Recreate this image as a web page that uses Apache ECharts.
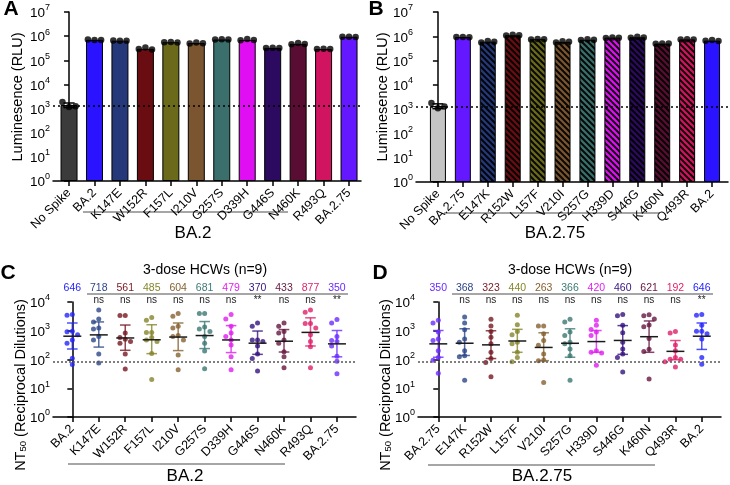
<!DOCTYPE html>
<html><head><meta charset="utf-8">
<script src="https://cdn.jsdelivr.net/npm/echarts@6/dist/echarts.min.js"></script>
<style>html,body{margin:0;padding:0;background:#fff}#c{width:730px;height:485px}</style>
</head><body><div id="c"></div>
<script>
const FONT = '"Liberation Sans", Arial, Helvetica, sans-serif';

// ---------- Panel A ----------
const catsA = ['No Spike','BA.2','K147E','W152R','F157L','I210V','G257S','D339H','G446S','N460K','R493Q','BA.2.75'];
const barsA = [1400, 705000, 650000, 300000, 560000, 515000, 725000, 700000, 325000, 480000, 293000, 940000];
const repsA = [
  [1850, 1150, 1250], [730000, 700000, 690000], [660000, 650000, 640000], [290000, 340000, 280000],
  [560000, 570000, 550000], [500000, 540000, 510000], [720000, 740000, 720000], [680000, 760000, 690000],
  [320000, 330000, 320000], [460000, 520000, 470000], [290000, 300000, 290000], [940000, 950000, 930000]
];
const colorsA = ['#3b3b3b','#2a14ff','#24387a','#6a0d12','#6b6a1b','#7a5530','#3b6f6b','#e00ef2','#2c0a60','#5a0d32','#d11460','#6418ff'];
const noSpikeErrA = [1100, 1700];
const limitA = 1300;

// ---------- Panel B ----------
const catsB = ['No Spike','BA.2.75','E147K','R152W','L157F','V210I','S257G','H339D','S446G','K460N','Q493R','BA.2'];
const barsB = [1350, 930000, 600000, 1100000, 760000, 590000, 720000, 880000, 910000, 500000, 745000, 665000];
const repsB = [
  [1800, 1100, 1300], [930000, 940000, 920000], [560000, 640000, 600000], [1080000, 1150000, 1100000],
  [740000, 780000, 760000], [560000, 620000, 600000], [700000, 760000, 720000], [860000, 900000, 880000],
  [880000, 960000, 900000], [490000, 510000, 500000], [740000, 760000, 740000], [660000, 700000, 640000]
];
const colorsB = ['#c4c4c4','#6418ff','#24387a','#6a0d12','#6b6a1b','#7a5530','#3b6f6b','#e00ef2','#2c0a60','#5a0d32','#d11460','#2a14ff'];
const hatchedB = [false,false,true,true,true,true,true,true,true,true,true,false];
const noSpikeErrB = [1050, 1650];
const limitB = 1300;

// ---------- Panel C ----------
const catsC = ['BA.2','K147E','W152R','F157L','I210V','G257S','D339H','G446S','N460K','R493Q','BA.2.75'];
const meansC = [646, 718, 561, 485, 604, 681, 479, 370, 433, 877, 350];
const sigC = ['', 'ns','ns','ns','ns','ns','ns','**','ns','ns','**'];
const errLoC = [232, 270, 209, 160, 204, 240, 174, 151, 182, 295, 124];
const errHiC = [1860, 2030, 1580, 1620, 1860, 2090, 1510, 977, 1100, 2820, 1020];
const ptsC = [
  [3670, 3480, 970, 920, 720, 480, 370, 110, 67],
  [5220, 2580, 2020, 1240, 1150, 630, 480, 154, 76],
  [3390, 3390, 830, 580, 510, 420, 370, 154, 47],
  [2880, 2320, 870, 870, 580, 480, 420, 163, 20],
  [3980, 3210, 1420, 1240, 680, 630, 480, 142, 44],
  [3980, 3980, 1350, 1150, 950, 630, 370, 197, 48],
  [3670, 2580, 1420, 830, 630, 480, 320, 124, 44],
  [1870, 1420, 480, 480, 420, 296, 154, 108, 40],
  [1870, 1420, 950, 830, 480, 370, 187, 124, 52],
  [5220, 4440, 1770, 1770, 1240, 720, 420, 280, 52],
  [2440, 1870, 630, 456, 420, 296, 131, 87, 32]
];
const colorsC = ['#2424ff','#2c4688','#761820','#85852a','#86602f','#3c7873','#e01ef0','#36127e','#661640','#e01f6a','#6a2aff'];
const limitC = 82;

// ---------- Panel D ----------
const catsD = ['BA.2.75','E147K','R152W','L157F','V210I','S257G','H339D','S446G','K460N','Q493R','BA.2'];
const meansD = [350, 368, 323, 440, 263, 366, 420, 460, 621, 192, 646];
const sigD = ['', 'ns','ns','ns','ns','ns','ns','ns','ns','ns','**'];
const errLoD = [120, 138, 108, 178, 91, 120, 178, 151, 178, 98, 224];
const errHiD = [1020, 1170, 1000, 1120, 850, 1170, 1020, 1510, 2190, 457, 1860];
const ptsD = [
  [2320, 1870, 900, 520, 456, 202, 118, 95, 33],
  [3030, 1870, 1080, 520, 400, 200, 135, 125, 19],
  [2510, 1460, 950, 600, 350, 177, 108, 78, 25],
  [3480, 1630, 950, 720, 400, 350, 177, 118, 83],
  [1460, 1460, 780, 456, 312, 154, 97, 90, 16],
  [2510, 2020, 900, 680, 400, 350, 232, 135, 19],
  [2320, 1540, 1110, 900, 680, 202, 177, 167, 63],
  [3670, 3300, 1540, 850, 400, 232, 154, 118, 37],
  [3570, 3300, 2580, 1580, 1380, 535, 225, 191, 21],
  [950, 830, 320, 202, 118, 103, 103, 83, 55],
  [3670, 3480, 1540, 970, 970, 780, 520, 118, 68]
];
const colorsD = ['#6a2aff','#2c4688','#761820','#85852a','#86602f','#3c7873','#e01ef0','#36127e','#661640','#e01f6a','#2424ff'];
const limitD = 82;

const titleCD = '3-dose HCWs (n=9)';

// ---------- helpers ----------
const AX = {color:'#000', width:1.5};
function yLog(grid, maxExp) {
  return {
    type:'log', logBase:10, min:1, max:Math.pow(10, maxExp), splitNumber:maxExp, gridIndex:grid,
    splitLine:{show:false}, minorTick:{show:false},
    axisLine:{show:true, lineStyle:AX},
    axisTick:{show:true, length:5, lineStyle:AX},
    axisLabel:{margin:3, formatter: v => '{b|10}{s|' + Math.round(Math.log10(v)) + '}',
      rich:{
        b:{fontSize:13.5, fontFamily:FONT, color:'#000', verticalAlign:'bottom', lineHeight:17},
        s:{fontSize:9, fontFamily:FONT, color:'#000', verticalAlign:'top', lineHeight:9}
      }}
  };
}
function xCat(grid, min, max, cats) {
  const ticks = cats.map((_, i) => i);
  return {
    type:'value', gridIndex:grid, min, max, splitLine:{show:false},
    axisLine:{show:true, onZero:false, lineStyle:AX},
    axisTick:{show:true, length:5, customValues:ticks, lineStyle:AX},
    axisLabel:{customValues:ticks, formatter: v => cats[Math.round(v)], rotate:45, fontSize:12.5,
      color:'#000', margin:10, fontFamily:FONT}
  };
}
function swarm(vals, gi, step) {
  const placed = [], out = [];
  const order = vals.map((v, i) => i).sort((a, b) => vals[b] - vals[a]);
  const cands = [0, -1, 1, -2, 2, -3, 3];
  order.forEach(i => {
    const l = Math.log10(vals[i]);
    for (const c of cands) {
      if (!placed.some(p => p.c === c && Math.abs(p.l - l) < 0.17)) {
        placed.push({c, l}); out.push([gi + c * step, vals[i]]); break;
      }
    }
  });
  return out;
}
// hatch pattern tile: "\" stripes over the bar colour
function hatch(color) {
  const s = 6, cv = document.createElement('canvas');
  cv.width = s; cv.height = s;
  const g = cv.getContext('2d');
  g.fillStyle = color; g.fillRect(0, 0, s, s);
  g.strokeStyle = 'rgba(0,0,0,0.92)'; g.lineWidth = 2;
  [-s, 0, s].forEach(k => { g.beginPath(); g.moveTo(k - 1, -1); g.lineTo(k + s + 1, s + 1); g.stroke(); });
  return {image:cv, repeat:'repeat'};
}
function barSeries(ax, bars, colors, hatched, limit, bw) {
  return {
    type:'bar', xAxisIndex:ax, yAxisIndex:ax, barWidth:bw, z:2,
    data: bars.map((v, i) => ({
      value:[i, v],
      itemStyle:{color:(hatched && hatched[i]) ? hatch(colors[i]) : colors[i], borderColor:'#000', borderWidth:1}
    })),
    markLine:{silent:true, symbol:'none', label:{show:false},
      lineStyle:{type:[2,3], color:'#000', width:1.5}, data:[{yAxis:limit}]}
  };
}
function repSeries(ax, reps) {
  const data = [];
  reps.forEach((r, i) => r.forEach((v, j) => data.push([i + (j - 1) * 0.26, v])));
  return {type:'scatter', xAxisIndex:ax, yAxisIndex:ax, symbolSize:6.5, z:4,
    itemStyle:{color:'#000'}, data};
}
function smallErr(ax, mean, err) {
  return {type:'custom', xAxisIndex:ax, yAxisIndex:ax, z:3,
    data:[[0, mean, err[0], err[1]]],
    renderItem:(params, api) => {
      const p = api.coord([0, api.value(1)]), lo = api.coord([0, api.value(2)]), hi = api.coord([0, api.value(3)]);
      const cw = api.coord([0.22, api.value(1)])[0] - p[0];
      const st = {stroke:'#000', lineWidth:1.5};
      return {type:'group', children:[
        {type:'line', shape:{x1:p[0], y1:lo[1], x2:p[0], y2:hi[1]}, style:st},
        {type:'line', shape:{x1:p[0]-cw, y1:hi[1], x2:p[0]+cw, y2:hi[1]}, style:st},
        {type:'line', shape:{x1:p[0]-cw, y1:lo[1], x2:p[0]+cw, y2:lo[1]}, style:st}
      ]};
    }};
}
function dotSeries(ax, pts, colors, limit) {
  const data = [];
  pts.forEach((g, i) => swarm(g, i, 0.2).forEach(p => data.push({value:p, itemStyle:{color:colors[i]}})));
  return {type:'scatter', xAxisIndex:ax, yAxisIndex:ax, symbolSize:5, z:3, data,
    markLine:{silent:true, symbol:'none', label:{show:false},
      lineStyle:{type:[2,2], color:'#555', width:1.5}, data:[{yAxis:limit}]}};
}
function errSeries(ax, means, lo, hi, colors) {
  return {type:'custom', xAxisIndex:ax, yAxisIndex:ax, z:4,
    data: means.map((m, i) => [i, m, lo[i], hi[i]]),
    renderItem:(params, api) => {
      const i = api.value(0), m = api.value(1);
      const c = colors[params.dataIndex];
      const p = api.coord([i, m]), pl = api.coord([i, api.value(2)]), ph = api.coord([i, api.value(3)]);
      const cw = api.coord([i + 0.2, m])[0] - p[0];
      const mw = api.coord([i + 0.34, m])[0] - p[0];
      const st = {stroke:c, lineWidth:1.5, opacity:0.8};
      return {type:'group', children:[
        {type:'line', shape:{x1:p[0], y1:pl[1], x2:p[0], y2:ph[1]}, style:st},
        {type:'line', shape:{x1:p[0]-cw, y1:ph[1], x2:p[0]+cw, y2:ph[1]}, style:st},
        {type:'line', shape:{x1:p[0]-cw, y1:pl[1], x2:p[0]+cw, y2:pl[1]}, style:st},
        {type:'line', shape:{x1:p[0]-mw, y1:p[1], x2:p[0]+mw, y2:p[1]}, style:{stroke:'#1a1a1a', lineWidth:1.5}}
      ]};
    }};
}
function topLabels(ax, means, sig, colors, maxVal) {
  return {type:'custom', xAxisIndex:ax, yAxisIndex:ax, z:5, clip:false,
    data: means.map((m, i) => [i, maxVal]),
    renderItem:(params, api) => {
      const k = params.dataIndex;
      const t = api.coord([api.value(0), api.value(1)]);
      return {type:'group', children:[
        {type:'text', x:t[0], y:t[1]-14, style:{text:String(means[k]), fill:colors[k], fontSize:10.5,
          fontFamily:FONT, align:'center', verticalAlign:'middle'}},
        {type:'text', x:t[0], y:t[1]-2, style:{text:sig[k], fill:'#222', fontSize:10,
          fontFamily:FONT, align:'center', verticalAlign:'middle'}}
      ]};
    }};
}

const bold = {fontSize:21, fontWeight:'bold', fontFamily:FONT, fill:'#000'};
function txt(x, y, text, extra) {
  return Object.assign({type:'text', x, y, style:Object.assign({text, fontFamily:FONT, fill:'#000',
    align:'center', verticalAlign:'middle', fontSize:14}, extra || {})});
}
function vname(x, y, text, rich) {
  return {type:'text', x, y, rotation:Math.PI/2,
    style:{text, fontFamily:FONT, fill:'#000', align:'center', verticalAlign:'middle', fontSize:14.5, rich}};
}
const ntRich = {a:{fontSize:14.5, fontFamily:FONT, verticalAlign:'bottom', lineHeight:17},
  b:{fontSize:9.5, fontFamily:FONT, verticalAlign:'bottom', lineHeight:13}};
function hline(x1, x2, y, color) {
  return {type:'line', shape:{x1, y1:y, x2, y2:y}, style:{stroke:color, lineWidth:1.5}};
}

const chart = echarts.init(document.getElementById('c'));
chart.setOption({
  animation:false,
  backgroundColor:'#fff',
  textStyle:{fontFamily:FONT},
  grid:[
    {left:53, top:12, width:308, height:169},
    {left:416, top:12, width:312, height:170},
    {left:53, top:302, width:303, height:115},
    {left:418, top:302, width:303, height:115}
  ],
  xAxis:[
    xCat(0, -0.63, 11.47, catsA),
    xCat(1, -0.88, 11.64, catsB),
    xCat(2, -0.73, 10.72, catsC),
    xCat(3, -0.77, 10.73, catsD)
  ],
  yAxis:[yLog(0, 7), yLog(1, 7), yLog(2, 4), yLog(3, 4)],
  series:[
    barSeries(0, barsA, colorsA, null, limitA, 17),
    smallErr(0, barsA[0], noSpikeErrA),
    repSeries(0, repsA),
    barSeries(1, barsB, colorsB, hatchedB, limitB, 16),
    smallErr(1, barsB[0], noSpikeErrB),
    repSeries(1, repsB),
    dotSeries(2, ptsC, colorsC, limitC),
    errSeries(2, meansC, errLoC, errHiC, colorsC),
    topLabels(2, meansC, sigC, colorsC, 10000),
    dotSeries(3, ptsD, colorsD, limitD),
    errSeries(3, meansD, errLoD, errHiD, colorsD),
    topLabels(3, meansD, sigD, colorsD, 10000)
  ],
  graphic:[
    txt(11, 9, 'A', bold), txt(376, 9, 'B', bold), txt(8, 273, 'C', bold), txt(380, 273, 'D', bold),
    vname(18, 97, 'Luminesence (RLU)'), vname(383, 97, 'Luminesence (RLU)'),
    vname(20, 385, '{a|NT}{b|50}{a| (Reciprocal Dilutions)}', ntRich),
    vname(385, 385, '{a|NT}{b|50}{a| (Reciprocal Dilutions)}', ntRich),
    hline(83, 288, 212, '#888'), txt(193, 233, 'BA.2', {fontSize:17}),
    hline(444, 660, 213, '#888'), txt(555, 233, 'BA.2.75', {fontSize:17}),
    hline(68, 285, 464, '#888'), txt(185, 476, 'BA.2', {fontSize:17}),
    hline(428, 655, 465, '#888'), txt(542, 476, 'BA.2.75', {fontSize:17}),
    txt(205, 270, titleCD, {fontSize:14}), txt(570, 270, titleCD, {fontSize:14}),
    hline(87, 348, 294, '#888'), hline(452, 713, 294, '#888')
  ]
});
</script></body></html>
